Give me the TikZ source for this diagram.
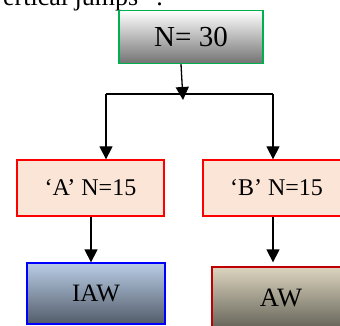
\documentclass[tikz,border=0pt]{standalone}
\usepackage{fontspec}
\setmainfont{Liberation Serif}
\usetikzlibrary{arrows.meta,calc}
\definecolor{grnb}{HTML}{00B050}
\definecolor{pinkf}{HTML}{FBE5D6}
\definecolor{redb}{HTML}{FF0000}
\definecolor{darkred}{HTML}{C00000}
\definecolor{bluet}{HTML}{B9CDE5}
\definecolor{blueb}{HTML}{525C6A}
\definecolor{tant}{HTML}{DCD4BE}
\definecolor{tanb}{HTML}{66655A}
\tikzset{
  box/.style={rectangle, inner sep=0pt, line width=1.3pt},
  arr/.style={line width=1.3pt, -{Triangle[width=13pt,length=13pt]}},
  ln/.style={line width=1.3pt}
}
\begin{document}
\begin{tikzpicture}[x=1pt,y=-1pt]
\useasboundingbox (0,0) rectangle (340,326);
\clip (0,0) rectangle (340,326);
\node[anchor=base west, font=\fontsize{26}{30}\selectfont, inner sep=0pt] (hd) at (-10,6) {vertical jumps” .};
\node[box, draw=grnb, top color=white, bottom color=black!55, minimum width=144pt, minimum height=53pt, font=\fontsize{29}{33}\selectfont] (top) at (191,37) {N= 30};
\node[box, draw=redb, fill=pinkf, minimum width=147pt, minimum height=56pt, font=\fontsize{24}{28}\selectfont] (A) at (90.5,188) {‘A’ N=15};
\node[box, draw=redb, fill=pinkf, minimum width=147pt, minimum height=56pt, font=\fontsize{24}{28}\selectfont] (B) at (276.5,188) {‘B’ N=15};
\node[box, draw=blue, top color=bluet, bottom color=blueb, minimum width=138pt, minimum height=61pt, font=\fontsize{25}{29}\selectfont] (IAW) at (96,293.5) {IAW};
\node[box, draw=darkred, top color=tant, bottom color=tanb, minimum width=138pt, minimum height=61pt, font=\fontsize{26.5}{30}\selectfont] (AW) at (281,297.5) {AW};
\coordinate (j) at (183,100);
\coordinate (hl) at (106,94);
\coordinate (hr) at (273,94);
\draw[arr] ($(top.south)+(-10,0)$) -- (j);
\draw[ln] (hl) -- (hr);
\draw[arr] (hl) -- (A.north -| hl);
\draw[arr] (hr) -- (B.north -| hr);
\draw[arr] (A.south -| 91,0) -- (IAW.north -| 91,0);
\draw[arr] (B.south -| 273,0) -- ($(AW.north -| 273,0)+(0,-4)$);
\end{tikzpicture}
\end{document}
